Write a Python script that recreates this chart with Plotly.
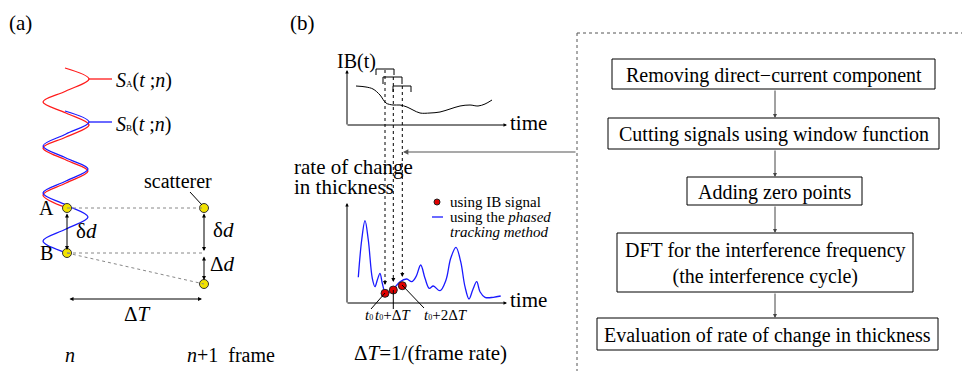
import plotly.graph_objects as go

FONT = "Liberation Serif"

# ---------------- data (pixel-space canvas coordinates) ----------------
# panel (a): echo waveforms
wave_red_x = [65, 89, 66, 43, 66, 89, 66, 43, 66, 88, 66, 43, 67]
wave_red_y = [68, 79, 91, 102, 113, 125, 137, 148, 160, 171, 183, 195, 208]
wave_blue_x = [65, 89, 66, 43, 66, 88, 66, 43, 66, 88, 66, 43, 67]
wave_blue_y = [111, 122, 134, 146, 158, 169, 181, 193, 205, 217, 229, 241, 253]
scatterer_x = [67, 67, 204, 204]
scatterer_y = [208, 253, 208, 284]

# panel (b): IB(t) sketch
ib_t = [356, 366, 373, 380, 386, 393, 400, 407, 413, 420, 430, 440, 450, 460, 470, 478, 485, 492]
ib_val = [86, 87, 89, 95, 103, 105, 105, 107, 110, 113, 113, 112, 109, 106, 105, 106, 104, 100]

# panel (b): rate of change in thickness (phased tracking)
rate_t = [358.3, 361.7, 365, 368.3, 372.3, 375, 377.3, 380, 382.3, 385.7, 390, 395, 400, 406.7,
          411.7, 416, 420.7, 425, 429.3, 433.3, 440, 446, 450.7, 456, 460.7, 465, 469, 472.7,
          476.7, 480, 485, 493.3, 500.7]
rate_val = [277.3, 240, 220.7, 240, 278.3, 286.7, 280, 273.3, 283.3, 293.3, 291.7, 287.3, 281.7, 279,
            281.7, 276.7, 265, 278.3, 288.3, 286, 290.7, 280, 258.3, 247.3, 261.7, 286.7, 299, 290,
            281.7, 291.7, 297.3, 297.3, 296]
ib_pts_t = [385, 393.3, 402.3]
ib_pts_val = [293.3, 290, 285.7]
SUB0 = "<span style='font-size:8px'>0</span>"
tick_labels = ["<i>t</i>" + SUB0, "<i>t</i>" + SUB0 + "+Δ<i>T</i>", "<i>t</i>" + SUB0 + "+2Δ<i>T</i>"]

# flowchart
steps = ["Removing direct−current component",
         "Cutting signals using window function",
         "Adding zero points",
         "DFT for the interference frequency<br>(the interference cycle)",
         "Evaluation of rate of change in thickness"]
box_x0 = [612, 608, 687, 617, 597]
box_x1 = [935, 939, 862, 913, 938]
box_y0 = [59, 118, 177, 233, 318]
box_y1 = [89, 149, 205, 292, 350]

fig = go.Figure()
shapes = []
ann = []


def line(x0, y0, x1, y1, color="black", width=1, dash="solid"):
    shapes.append(dict(type="line", x0=x0, y0=y0, x1=x1, y1=y1, xref="x", yref="y",
                       line=dict(color=color, width=width, dash=dash)))


def arrow(x, y, ax, ay, color="black", width=1, side="end", size=1.0):
    ann.append(dict(x=x, y=y, ax=ax, ay=ay, xref="x", yref="y", axref="x", ayref="y",
                    text="", showarrow=True, arrowhead=2, startarrowhead=2, arrowsize=size,
                    startarrowsize=size, arrowwidth=width, arrowcolor=color, arrowside=side))


def text(x, y, s, size=20, anchor="center", color="black", yanchor="middle"):
    ann.append(dict(x=x, y=y, xref="x", yref="y", text=s, showarrow=False,
                    xanchor=anchor, yanchor=yanchor,
                    font=dict(family=FONT, size=size, color=color)))


# ---------------- panel (a) ----------------
text(7, 23, "(a)", 21, "left")
fig.add_trace(go.Scatter(x=wave_red_x, y=wave_red_y, mode="lines", line=dict(color="#ff1a1a", width=1.3, shape="spline", smoothing=1)))
fig.add_trace(go.Scatter(x=wave_blue_x, y=wave_blue_y, mode="lines", line=dict(color="#1a1aff", width=1.3, shape="spline", smoothing=1)))
line(89, 79, 112, 79, "#ff1a1a", 1.3)
line(89, 122, 112, 122, "#1a1aff", 1.3)
SUBA = "<span style='font-size:9px'>A</span>"
SUBB = "<span style='font-size:9px'>B</span>"
text(114, 80, "<i>S</i>" + SUBA + "(<i>t</i> ;<i>n</i>)", 20, "left")
text(114, 124, "<i>S</i>" + SUBB + "(<i>t</i> ;<i>n</i>)", 20, "left")

# dotted guide lines
line(67, 208, 204, 208, "#888888", 1, "dot")
line(67, 253, 204, 253, "#888888", 1, "dot")
line(67, 253, 204, 284, "#888888", 1, "dot")
# scatterer leader
line(190, 192, 202, 205, "black", 1)
text(178, 181, "scatterer", 20)
# double arrows
arrow(67, 250, 67, 212, side="end+start", size=0.8)
arrow(204, 251, 204, 212, side="end+start", size=0.8)
arrow(204, 280, 204, 255, side="end+start", size=0.8)
arrow(202, 299, 68, 299, side="end+start", size=0.8)

fig.add_trace(go.Scatter(x=scatterer_x, y=scatterer_y, mode="markers",
                         marker=dict(color="#f2e200", size=9, line=dict(color="#333333", width=1))))
text(46, 208, "A", 20)
text(46, 253, "B", 20)
text(86, 231, "δ<i>d</i>", 21)
text(223, 230, "δ<i>d</i>", 21)
text(222, 264, "Δ<i>d</i>", 21)
text(137, 314, "Δ<i>T</i>", 21)
text(70, 355, "<i>n</i>", 20)
text(185, 355, "<i>n</i>+1  frame", 20, "left")

# ---------------- panel (b) ----------------
text(288, 23, "(b)", 21, "left")
# upper axes
arrow(347, 70, 347, 126, size=0.7)
arrow(507, 125, 346, 125, size=0.7)
text(356, 61, "IB(t)", 20)
text(508, 123, "time", 21, "left")
fig.add_trace(go.Scatter(x=ib_t, y=ib_val, mode="lines", line=dict(color="black", width=1, shape="spline", smoothing=1)))
# window brackets
for bx0, bx1, by, bt in [(376, 394, 69, 75), (383, 402, 77, 84), (393, 411, 86, 92)]:
    line(bx0, by, bx1, by, "black", 1)
    line(bx0, by, bx0, bt, "black", 1)
    line(bx1, by, bx1, bt, "black", 1)
# dotted verticals down to lower plot
for dx, dy0, dy1 in [(385, 70, 281), (393.3, 77, 278), (402.3, 86, 273)]:
    line(dx, dy0, dx, dy1, "black", 1, "dot")
    arrow(dx, dy1 + 4, dx, dy1 - 1, size=0.8)

# arrow from right-hand panel
arrow(403, 152, 577, 152, "#555555", 1.2, size=0.9)

text(292, 167, "rate of change", 21, "left")
text(292, 187, "in thickness", 21, "left")

# lower axes
arrow(347, 203, 347, 304, size=0.7)
arrow(507, 303, 346, 303, size=0.7)
text(508, 300, "time", 21, "left")
fig.add_trace(go.Scatter(x=rate_t, y=rate_val, mode="lines", line=dict(color="#1a1aff", width=1.3, shape="spline", smoothing=1)))
# leader lines to tick labels
line(371, 309, 385, 293, "black", 1)
line(393.3, 309, 393.3, 290, "black", 1)
line(424, 308, 402, 285, "black", 1)
fig.add_trace(go.Scatter(x=ib_pts_t, y=ib_pts_val, mode="markers",
                         marker=dict(color="#e00000", size=8, line=dict(color="#222222", width=1))))
text(369, 315, tick_labels[0], 15)
text(393, 315, tick_labels[1], 15)
text(422, 315, tick_labels[2], 15, "left")

# legend
fig.add_trace(go.Scatter(x=[437], y=[202], mode="markers",
                         marker=dict(color="#e00000", size=6, line=dict(color="#222222", width=1))))
line(432, 217, 443, 217, "#1a1aff", 1.3)
text(448, 202, "using IB signal", 15, "left")
text(448, 217, "using the <i>phased</i>", 15, "left")
text(448, 232, "<i>tracking method</i>", 15, "left")

text(430, 353, "Δ<i>T</i>=1/(frame rate)", 21)

# ---------------- right panel (flowchart) ----------------
line(577, 33, 962, 33, "#555555", 1, "dot")
line(577, 33, 577, 371, "#555555", 1, "dot")
for i, s in enumerate(steps):
    shapes.append(dict(type="rect", x0=box_x0[i], x1=box_x1[i], y0=box_y0[i], y1=box_y1[i],
                       xref="x", yref="y", line=dict(color="black", width=1), fillcolor="white"))
    text((box_x0[i] + box_x1[i]) / 2, (box_y0[i] + box_y1[i]) / 2 + 1, s, 20)
    if i < len(steps) - 1:
        arrow(775, box_y0[i + 1], 775, box_y1[i], "#444444", 1, size=0.8)

fig.update_layout(width=962, height=371, margin=dict(l=0, r=0, t=0, b=0),
                  paper_bgcolor="white", plot_bgcolor="white", showlegend=False,
                  xaxis=dict(range=[0, 962], visible=False, fixedrange=True),
                  yaxis=dict(range=[371, 0], visible=False, fixedrange=True),
                  shapes=shapes, annotations=ann)
fig.write_html("out.html", config={"displayModeBar": False},
               post_script="document.body.style.margin='0';document.body.style.overflow='hidden';")
